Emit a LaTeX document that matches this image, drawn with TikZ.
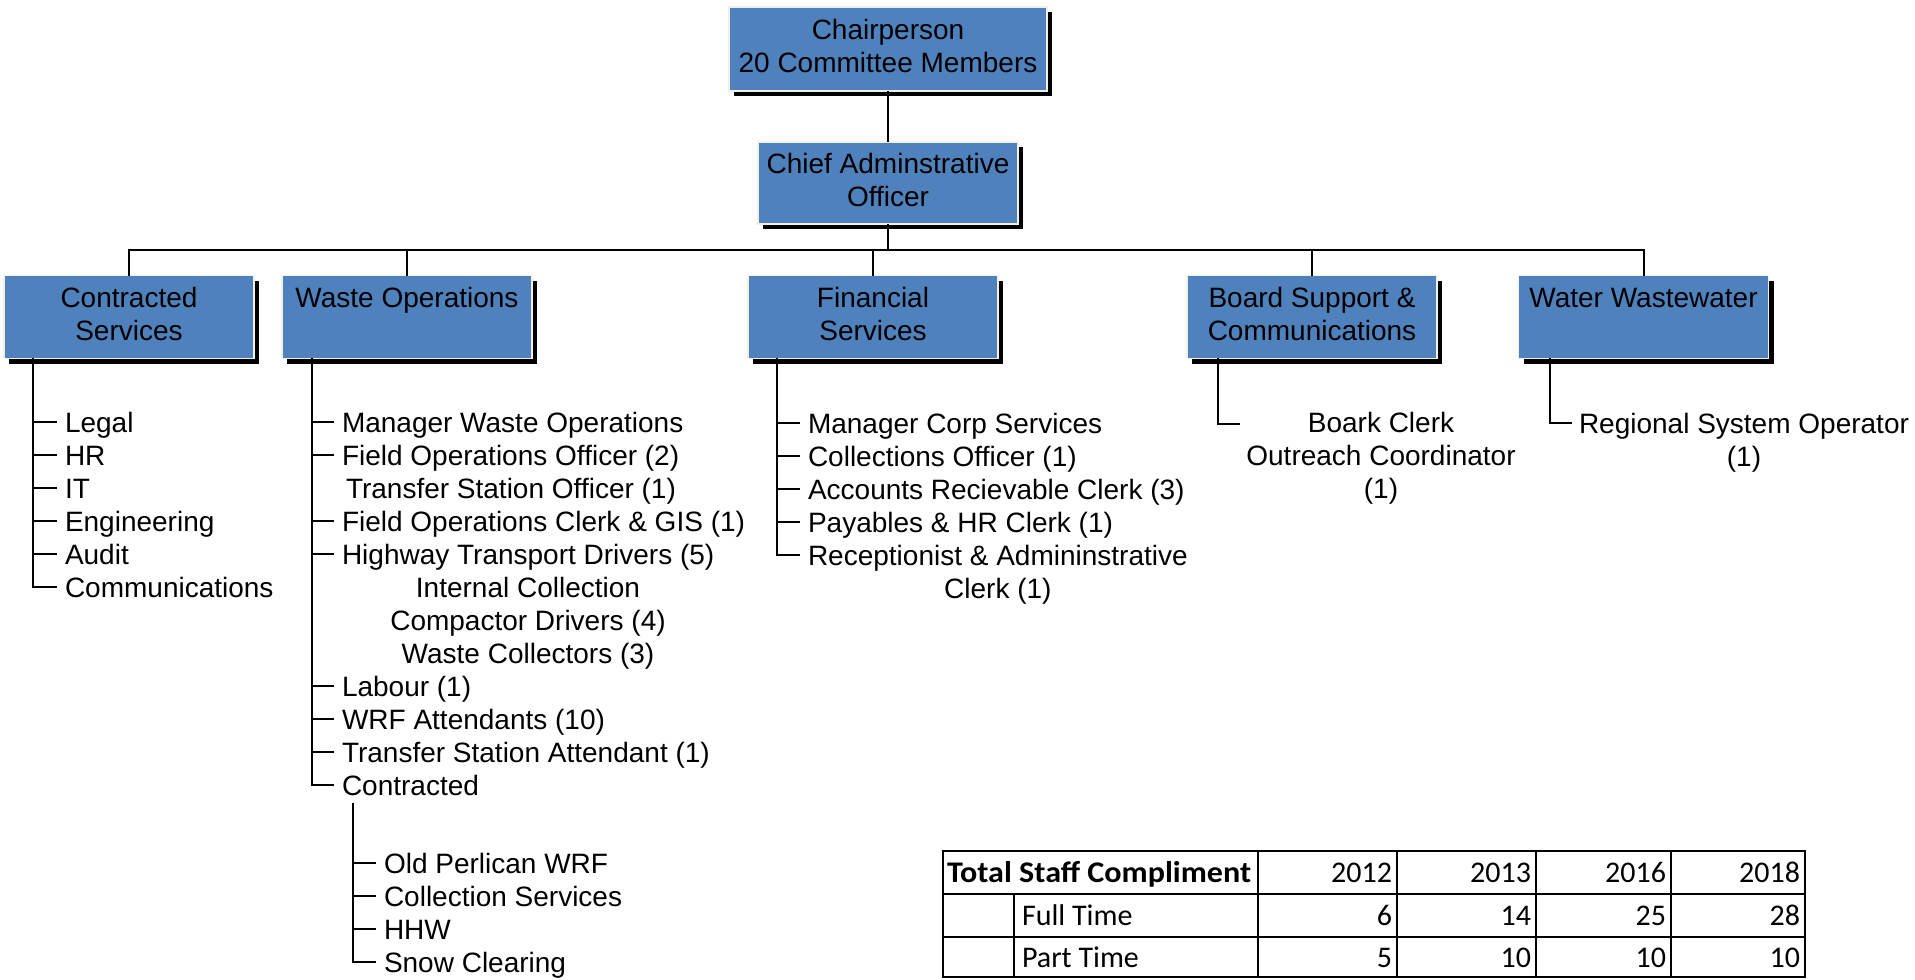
\documentclass[tikz,border=0pt]{standalone}
\usepackage{fontspec}
\setmainfont{Liberation Sans}
\newfontfamily\tabfont{Carlito}
\usetikzlibrary{shadows}
\definecolor{boxblue}{RGB}{79,129,189}
\definecolor{boxedge}{RGB}{240,240,228}
\begin{document}
\begin{tikzpicture}[x=0.5pt,y=-0.5pt,
  every node/.style={inner sep=0pt, outer sep=0pt},
  orgbox/.style={rectangle, fill=boxblue, draw=boxedge, line width=0.8pt, align=center,
     font=\fontsize{14}{16.5}\selectfont,
     drop shadow={shadow xshift=2.5pt, shadow yshift=-2.5pt, fill=black, opacity=1}},
  lvltwo/.style={orgbox, minimum width=125pt, minimum height=41.5pt},
  conn/.style={line width=1pt, black},
  item/.style={anchor=west, inner xsep=4pt, text height=11pt, text depth=1pt, font=\fontsize{14}{16.5}\selectfont},
  plain/.style={anchor=center, text height=11pt, text depth=1pt, font=\fontsize{14}{16.5}\selectfont},
  cell/.style={anchor=base east, font=\tabfont\fontsize{15}{18}\selectfont},
  tline/.style={line width=1.4pt, black},
  tinner/.style={line width=1.2pt, black}
]
\useasboundingbox (0,0) rectangle (1915,979);

% boxes
\node[orgbox, minimum width=159pt, minimum height=42pt] (chair) at (888,49) {\strut Chairperson\\\strut 20 Committee Members};
\node[orgbox, minimum width=130pt, minimum height=41pt] (cao) at (888,183) {\strut Chief Adminstrative\\\strut Officer};
\node[lvltwo] (cs) at (129,317) {\strut Contracted\\\strut Services};
\node[lvltwo] (wo) at (407,317) {\strut Waste Operations\\\strut};
\node[lvltwo] (fs) at (873,317) {\strut Financial\\\strut Services};
\node[lvltwo] (bs) at (1312,317) {\strut Board Support \&\\\strut Communications};
\node[lvltwo] (ww) at (1643.5,317) {\strut Water Wastewater\\\strut};

% top connectors
\coordinate (hy) at (888,250);
\draw[conn] (chair.south) -- (cao.north);
\draw[conn] (cao.south) -- (hy);
\draw[conn] (cs.north) |- (hy);
\draw[conn] (hy) -| (ww.north);
\draw[conn] (wo.north) -- (wo.north |- hy);
\draw[conn] (fs.north) -- (fs.north |- hy);
\draw[conn] (bs.north) -- (bs.north |- hy);

% Contracted Services list
\coordinate (cv) at (33,358);
\node[item] (c1) at (57,422) {Legal};
\node[item] (c2) at (57,455) {HR};
\node[item] (c3) at (57,488) {IT};
\node[item] (c4) at (57,521) {Engineering};
\node[item] (c5) at (57,554) {Audit};
\node[item] (c6) at (57,587) {Communications};
\draw[conn] (cv) |- (c6.west);
\foreach \i in {1,...,5} \draw[conn] (cv |- c\i.west) -- (c\i.west);

% Waste Operations list
\coordinate (wv) at (312,358);
\node[item] (w1) at (334,422) {Manager Waste Operations};
\node[item] (w2) at (334,455) {Field Operations Officer (2)};
\node[item] (w3) at (338,488) {Transfer Station Officer (1)};
\node[item] (w4) at (334,521) {Field Operations Clerk \& GIS (1)};
\node[item] (w5) at (334,554) {Highway Transport Drivers (5)};
\node[plain] (w6) at (528,587) {Internal Collection};
\node[plain] (w7) at (528,620) {Compactor Drivers (4)};
\node[plain] (w8) at (528,653) {Waste Collectors (3)};
\node[item] (w9) at (334,686) {Labour (1)};
\node[item] (w10) at (334,719) {WRF Attendants (10)};
\node[item] (w11) at (334,752) {Transfer Station Attendant (1)};
\node[item] (w12) at (334,785) {Contracted};
\draw[conn] (wv) |- (w12.west);
\foreach \i in {1,2,4,5,9,10,11} \draw[conn] (wv |- w\i.west) -- (w\i.west);

% Contracted sub-list
\coordinate (sv) at (353,803);
\node[item] (s1) at (376,863) {Old Perlican WRF};
\node[item] (s2) at (376,896) {Collection Services};
\node[item] (s3) at (376,929) {HHW};
\node[item] (s4) at (376,962) {Snow Clearing};
\draw[conn] (sv) |- (s4.west);
\foreach \i in {1,2,3} \draw[conn] (sv |- s\i.west) -- (s\i.west);

% Financial list
\coordinate (fv) at (777,358);
\node[item] (f1) at (800,423) {Manager Corp Services};
\node[item] (f2) at (800,456) {Collections Officer (1)};
\node[item] (f3) at (800,489) {Accounts Recievable Clerk (3)};
\node[item] (f4) at (800,522) {Payables \& HR Clerk (1)};
\node[item] (f5) at (800,555) {Receptionist \& Admininstrative};
\node[plain] (f6) at ([yshift=-16.5pt]f5.center) {Clerk (1)};
\draw[conn] (fv) |- (f5.west);
\foreach \i in {1,...,4} \draw[conn] (fv |- f\i.west) -- (f\i.west);

% Board support list
\coordinate (bv) at (1218,358);
\coordinate (bt) at (1240,424);
\draw[conn] (bv) |- (bt);
\node[plain] (b1) at (1381,422) {Boark Clerk};
\node[plain] (b2) at (1381,455) {Outreach Coordinator};
\node[plain] (b3) at (1381,488) {(1)};

% Water list
\coordinate (rv) at (1550,358);
\node[item, inner xsep=3.5pt] (r1) at (1572,423) {Regional System Operator};
\node[plain] (r2) at ([yshift=-16.5pt]r1.center) {(1)};
\draw[conn] (rv) |- (r1.west);

% table
\draw[tinner] (1014,894) -- (1014,977);
\foreach \x in {1258,1397,1536,1671} \draw[tinner] (\x,851) -- (\x,977);
\draw[tline] (943,894) -- (1805,894);
\draw[tline] (943,937) -- (1805,937);
\draw[tline] (943,851) rectangle (1805,977);
\node[cell, anchor=base west] (th) at (947,882) {\scalebox{1.07}[1]{\bfseries Total Staff Compliment}};
\node[cell] (h1) at (1392,882) {2012};
\node[cell] (h2) at (1531,882) {2013};
\node[cell] (h3) at (1666,882) {2016};
\node[cell] (h4) at (1800,882) {2018};
\node[cell, anchor=base west] (ft) at (1022,925) {Full Time};
\node[cell] (f12) at (1392,925) {6};
\node[cell] (f13) at (1531,925) {14};
\node[cell] (f16) at (1666,925) {25};
\node[cell] (f18) at (1800,925) {28};
\node[cell, anchor=base west] (pt) at (1022,967) {Part Time};
\node[cell] (p12) at (1392,967) {5};
\node[cell] (p13) at (1531,967) {10};
\node[cell] (p16) at (1666,967) {10};
\node[cell] (p18) at (1800,967) {10};
\end{tikzpicture}
\end{document}
